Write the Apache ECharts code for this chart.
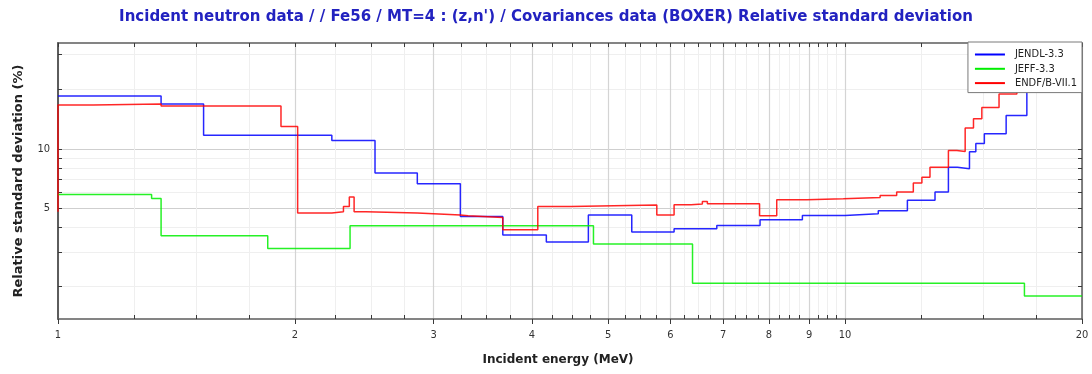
<!DOCTYPE html>
<html>
<head>
<meta charset="utf-8">
<script src="https://cdn.jsdelivr.net/npm/echarts@6/dist/echarts.min.js"></script>
<style>
  html, body { margin: 0; padding: 0; background: #fff; }
  #chart { width: 1092px; height: 374px; }
</style>
</head>
<body>
<div id="chart"></div>
<script>
// Fe56 MT=4 relative standard deviation (%), one value per energy group.
// Each energy is the lower edge of a group; the last entry closes the final group.
const jendlEnergy = [1.0, 1.352, 1.531, 2.228, 2.528, 2.861, 3.245, 3.674, 4.173, 4.719, 5.358, 6.064, 6.871, 7.798, 8.826, 10.0, 11.02, 12.0, 13.01, 13.53, 13.89, 14.39, 14.66, 15.03, 16.02, 17.02, 20.0];
const jendlValue  = [18.5, 16.86, 11.7, 11.02, 7.53, 6.64, 4.53, 3.65, 3.37, 4.62, 3.78, 3.93, 4.08, 4.36, 4.585, 4.68, 4.85, 5.49, 6.03, 8.07, 7.92, 9.66, 10.64, 11.92, 14.76, 30, 30];

const jeffEnergy = [1.0, 1.315, 1.352, 1.847, 2.35, 4.79, 6.40, 16.9, 20.0];
const jeffValue  = [5.86, 5.60, 3.62, 3.12, 4.07, 3.29, 2.08, 1.79, 1.79];

const endfEnergy = [1.0, 1.0, 1.108, 1.352, 1.920, 2.016, 2.228, 2.305, 2.345, 2.378, 2.462, 2.861, 3.245, 3.319, 3.674, 4.070, 4.486, 5.765, 6.064, 6.373, 6.587, 6.684, 7.787, 8.188, 8.940, 9.950, 11.08, 11.63, 12.21, 12.52, 12.82, 13.53, 13.87, 14.21, 14.56, 14.92, 15.69, 16.53, 20.0];
const endfValue  = [4.8, 16.67, 16.86, 16.47, 12.98, 4.72, 4.80, 5.10, 5.69, 4.80, 4.72, 4.62, 4.57, 4.48, 3.88, 5.10, 5.18, 4.62, 5.20, 5.25, 5.40, 5.26, 4.57, 5.51, 5.575, 5.66, 5.80, 6.03, 6.70, 7.18, 8.07, 9.80, 9.69, 12.74, 14.20, 16.20, 18.95, 25, 25];

const seriesNames = ['JENDL-3.3', 'JEFF-3.3', 'ENDF/B-VII.1'];
const seriesColors = ['#0000ff', '#00ee00', '#ff0000'];

// Axis ticks and labels
const xMajor = [1, 2, 3, 4, 5, 6, 7, 8, 9, 10, 20];
const xMinor = [];
for (let i = 1; i < 10; i++) {
  for (const f of [0.25, 0.5, 0.75]) xMinor.push(i + f);
}
xMinor.push(12.5, 15, 17.5);
const xAll = xMajor.concat(xMinor).sort((a, b) => a - b);

const yLabelled = [5, 10];
const yMinor = [2, 3, 4, 6, 7, 8, 9, 20, 30];
const yAll = [2, 3, 4, 5, 6, 7, 8, 9, 10, 20, 30];

const xMin = 1, xMax = 20;
const yMin = 1.37, yMax = 34.4;

const zip = (xs, ys) => xs.map((x, i) => [x, ys[i]]);

const frameColor = '#5c5c5c';
const tickColor = '#3a3a3a';
const labelFont = { fontFamily: 'DejaVu Sans Condensed, DejaVu Sans', fontSize: 11, color: '#333' };
const nameFont = { fontFamily: 'DejaVu Sans', fontWeight: 'bold', fontSize: 13, color: '#222' };

function logAxis(base, extra) {
  return Object.assign({
    type: 'log', logBase: 10, min: base[0], max: base[1],
    axisLine: { show: false },
    axisTick: { show: false },
    axisLabel: { show: false },
    splitLine: { show: false },
    minorTick: { show: false },
    minorSplitLine: { show: false }
  }, extra);
}

const xr = [xMin, xMax], yr = [yMin, yMax];

const option = {
  animation: false,
  backgroundColor: '#fff',
  title: {
    text: "Incident neutron data / / Fe56 / MT=4 : (z,n') / Covariances data (BOXER) Relative standard deviation",
    left: 'center', top: 5,
    padding: [5, 0, 5, 13],
    textStyle: { fontFamily: 'DejaVu Sans', fontWeight: 'bold', fontSize: 15, color: '#2222c0' }
  },
  grid: { left: 58, right: 10, top: 43, bottom: 55, containLabel: false },
  legend: {
    orient: 'vertical', right: 10, top: 42, z: 10,
    data: seriesNames,
    icon: 'path://M0,0H30V2H0Z',
    itemWidth: 30, itemHeight: 10, itemGap: 3.3,
    padding: [7, 5, 4, 7],
    backgroundColor: '#fff', borderColor: '#7a7a7a', borderWidth: 1,
    textStyle: { fontFamily: 'DejaVu Sans Condensed, DejaVu Sans', fontSize: 11, color: '#222', padding: [0, 0, 0, 5] }
  },
  xAxis: [
    logAxis(xr, {
      position: 'bottom',
      name: 'Incident energy (MeV)', nameLocation: 'middle', nameGap: 35,
      nameTextStyle: Object.assign({}, nameFont, { fontSize: 12, padding: [0, 24, 0, 0] }),
      axisLine: { show: true, lineStyle: { color: frameColor, width: 1.5 } },
      axisTick: { show: true, customValues: xMajor, length: 5, lineStyle: { color: tickColor } },
      axisLabel: Object.assign({ show: true, customValues: xMajor, margin: 11 }, labelFont),
      splitLine: { show: true, lineStyle: { color: '#d4d4d4', width: 1.2 } }
    }),
    logAxis(xr, {
      position: 'top',
      axisLine: { show: true, lineStyle: { color: frameColor, width: 1.5 } },
      axisTick: { show: true, inside: true, customValues: xAll, length: 4, lineStyle: { color: tickColor } }
    }),
    logAxis(xr, {
      position: 'bottom',
      axisTick: { show: true, inside: true, customValues: xMinor, length: 4, lineStyle: { color: tickColor } },
      splitLine: { show: true, lineStyle: { color: '#efefef', width: 1 } }
    })
  ],
  yAxis: [
    logAxis(yr, {
      position: 'left',
      name: 'Relative standard deviation (%)', nameLocation: 'middle', nameGap: 33,
      nameTextStyle: nameFont,
      axisLine: { show: true, lineStyle: { color: frameColor, width: 2 } },
      axisTick: { show: true, inside: true, customValues: yAll, length: 4, lineStyle: { color: tickColor } },
      axisLabel: Object.assign({ show: true, customValues: yLabelled, margin: 8 }, labelFont)
    }),
    logAxis(yr, {
      position: 'right',
      axisLine: { show: true, lineStyle: { color: frameColor, width: 1.5 } },
      axisTick: { show: true, inside: true, customValues: yAll, length: 4, lineStyle: { color: tickColor } }
    }),
    logAxis(yr, {
      position: 'left',
      axisTick: { show: false, customValues: yLabelled },
      splitLine: { show: true, lineStyle: { color: '#cfcfcf', width: 1.2 } }
    }),
    logAxis(yr, {
      position: 'left',
      axisTick: { show: false, customValues: yMinor },
      splitLine: { show: true, lineStyle: { color: '#efefef', width: 1 } }
    })
  ],
  series: [
    [jendlEnergy, jendlValue],
    [jeffEnergy, jeffValue],
    [endfEnergy, endfValue]
  ].map(([e, v], i) => ({
    name: seriesNames[i],
    type: 'line',
    step: 'end',
    xAxisIndex: 0,
    yAxisIndex: 0,
    showSymbol: false,
    symbol: 'none',
    clip: true,
    color: seriesColors[i],
    lineStyle: { color: seriesColors[i], width: 1.5, opacity: 0.85 },
    data: zip(e, v)
  }))
};

const chart = echarts.init(document.getElementById('chart'), null, { renderer: 'canvas' });
chart.setOption(option);
</script>
</body>
</html>
